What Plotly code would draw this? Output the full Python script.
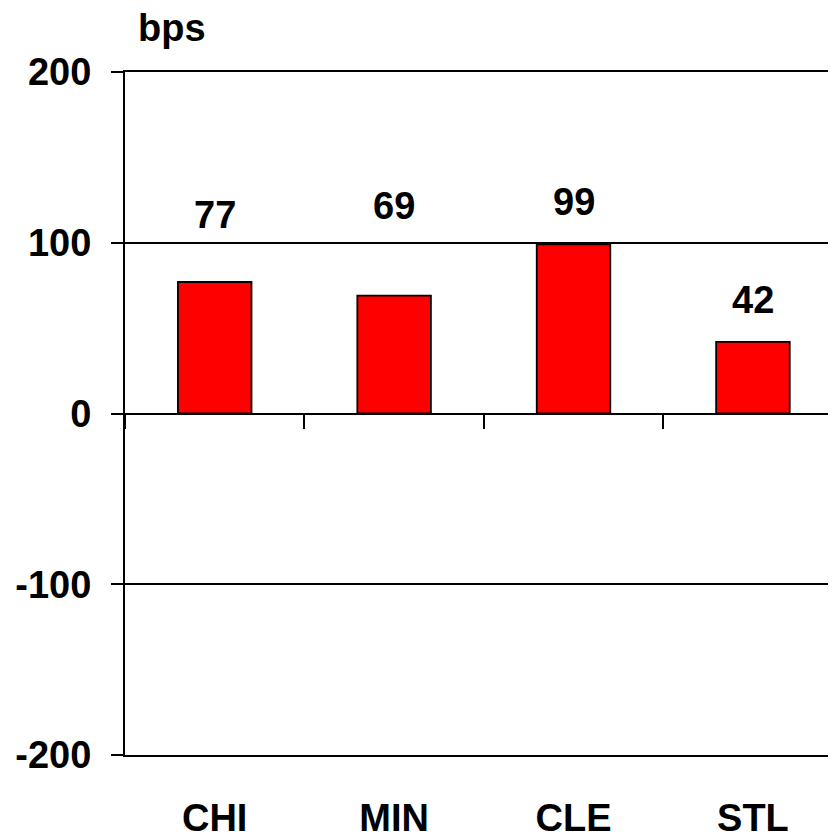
import plotly.graph_objects as go

categories = ["CHI", "MIN", "CLE", "STL"]
values = [77, 69, 99, 42]
y_ticks = [-200, -100, 0, 100, 200]
y_tick_labels = ["-200", "-100", "0", "100", "200"]
unit_label = "bps"

# styling (pixel offsets of value labels above bar tops)
label_shift = [67, 90, 42, 42]
FONT = dict(family="Liberation Sans, Arial, sans-serif", size=38, color="black", weight="bold")
XRANGE = [-0.5, 3.463]

fig = go.Figure()
fig.add_trace(go.Bar(
    x=categories, y=values, width=0.41,
    marker=dict(color="#FF0000", line=dict(color="black", width=1.8)),
    hoverinfo="skip",
))
# helper trace so the zero-line tick axis is drawn
fig.add_trace(go.Scatter(x=categories, y=values, xaxis="x2", mode="none",
                         hoverinfo="skip", showlegend=False))

for c, v, s in zip(categories, values, label_shift):
    fig.add_annotation(x=c, y=v, text=str(v), showarrow=False, yanchor="middle",
                       yshift=s, font=FONT)

fig.add_annotation(xref="paper", yref="paper", x=(11) / 711, y=1, xanchor="left",
                   yanchor="bottom", yshift=21, text=unit_label, showarrow=False, font=FONT)

# page body adds an 8px offset, so the figure is 8px smaller than the window
fig.update_layout(
    width=828, height=830,
    margin=dict(l=117, r=0, t=64, b=83, autoexpand=False),
    paper_bgcolor="white", plot_bgcolor="white",
    showlegend=False,
    xaxis=dict(type="category", range=XRANGE, anchor="y", side="bottom",
               ticks="", showgrid=False, zeroline=False, automargin=False,
               showline=True, mirror=True, linecolor="black", linewidth=2,
               tickfont=FONT, ticklabelstandoff=28),
    xaxis2=dict(type="category", overlaying="x", anchor="free", position=0.5,
                range=XRANGE, ticks="outside", tickson="boundaries", ticklen=14,
                tickwidth=2, tickcolor="black", showticklabels=False,
                showline=False, showgrid=False, zeroline=False, automargin=False),
    yaxis=dict(range=[-200, 200], tickmode="array", tickvals=y_ticks, ticktext=y_tick_labels,
               showgrid=True, gridcolor="black", gridwidth=2,
               zeroline=True, zerolinecolor="black", zerolinewidth=2,
               showline=True, linecolor="black", linewidth=2,
               ticks="outside", ticklen=12, tickwidth=2, tickcolor="black",
               tickfont=FONT, ticklabelstandoff=12, automargin=False),
)

fig.write_html("out.html")
